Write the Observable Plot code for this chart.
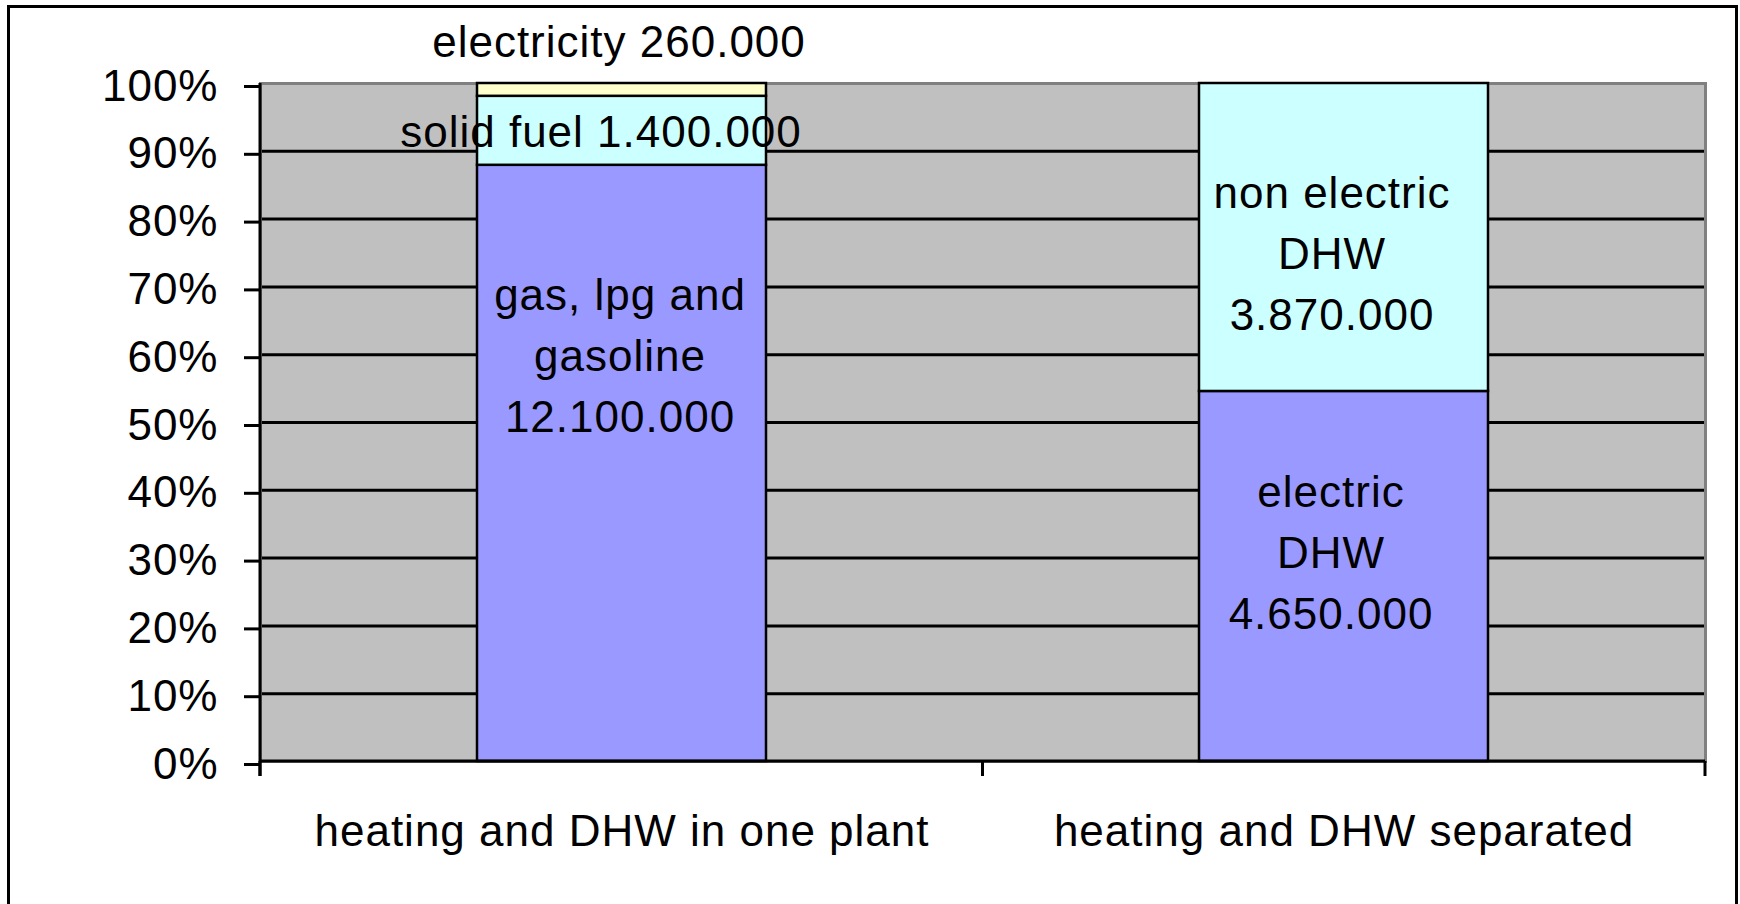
<!DOCTYPE html>
<html><head><meta charset="utf-8">
<script src="https://cdn.jsdelivr.net/npm/d3@7"></script>
<script src="https://cdn.jsdelivr.net/npm/@observablehq/plot@0.6"></script>
<style>
html,body{margin:0;padding:0;background:#fff;overflow:hidden;width:1740px;height:904px;}
#frame{position:absolute;left:7px;top:5px;width:1725px;height:1000px;border:3px solid #000;}
#chart{position:absolute;left:0;top:0;}
#chart svg text{letter-spacing:1px;}
</style></head><body><div id="frame"></div><div id="chart"></div>
<script>
// ---- data ----
const categories = ["heating and DHW in one plant", "heating and DHW separated"];
const seriesNames = ["gas, lpg and gasoline", "solid fuel", "electricity", "electric DHW", "non electric DHW"];
const seriesCategory = [categories[0], categories[0], categories[0], categories[1], categories[1]];
const seriesValues = [12100000, 1400000, 260000, 4650000, 3870000];
const seriesLabels = [
  "gas, lpg and\ngasoline\n12.100.000",
  "solid fuel 1.400.000",
  "electricity 260.000",
  "electric\nDHW\n4.650.000",
  "non electric\nDHW\n3.870.000"
];
const yTickValues = [0, 0.1, 0.2, 0.3, 0.4, 0.5, 0.6, 0.7, 0.8, 0.9, 1];

// ---- styles ----
const seriesColors = ["#9999FF", "#CCFFFF", "#FFFFCC", "#9999FF", "#CCFFFF"];
const labelOffsets = [[-2, -112], [-21, -3], [-3, -52], [-13, -28], [-12, 12]];
const FONT = 44;

const rows = seriesNames.map((s, i) => ({category: seriesCategory[i], series: s, value: seriesValues[i], label: seriesLabels[i]}));
const totals = d3.rollup(rows, v => d3.sum(v, d => d.value), d => d.category);
const cum = new Map();
rows.forEach(d => {
  const c = cum.get(d.category) || 0;
  d.mid = (c + d.value / 2) / totals.get(d.category);
  cum.set(d.category, c + d.value);
});
const gridValues = yTickValues.filter(v => v > 0 && v < 1);

const chart = Plot.plot({
  width: 1740,
  height: 904,
  marginLeft: 260,
  marginRight: 35,
  marginTop: 83,
  marginBottom: 143,
  style: {fontFamily: "'Liberation Sans', Arial, sans-serif", fontSize: FONT + "px", background: "transparent", color: "black"},
  x: {domain: categories, paddingInner: 0.6, paddingOuter: 0.3, label: null},
  y: {domain: [0, 1], label: null},
  color: {domain: seriesNames, range: seriesColors},
  marks: [
    Plot.frame({fill: "#C0C0C0", stroke: "none"}),
    Plot.gridY(gridValues, {stroke: "black", strokeOpacity: 1, strokeWidth: 3}),
    Plot.frame({stroke: "#808080", strokeWidth: 3}),
    Plot.barY(rows, Plot.stackY({x: "category", y: "value", fill: "series", offset: "normalize", stroke: "black", strokeWidth: 2.5})),
    Plot.axisX({tickSize: 0, tickPadding: 53, fontSize: FONT, label: null}),
    Plot.axisY({ticks: yTickValues, tickFormat: d3.format(".0%"), tickSize: 16, tickPadding: 26, fontSize: FONT, strokeWidth: 3, dy: 3, label: null}),
    ...rows.map((d, i) => Plot.text([d], {x: "category", y: "mid", text: "label", dx: labelOffsets[i][0], dy: labelOffsets[i][1], fontSize: FONT, lineHeight: 1.386, fill: "black"}))
  ]
});
document.getElementById("chart").appendChild(chart);

// axis lines and category separator ticks from the scales
const xr = chart.scale("x").range, yr = chart.scale("y").range;
const svg = d3.select(chart);
const g = svg.append("g").attr("stroke", "black").attr("stroke-width", 3);
g.append("line").attr("x1", xr[0]).attr("x2", xr[0]).attr("y1", yr[1]).attr("y2", yr[0] + 15);
g.append("line").attr("x1", xr[0]).attr("x2", xr[1]).attr("y1", yr[0]).attr("y2", yr[0]);
const n = categories.length;
for (let i = 0; i <= n; i++) {
  const x = xr[0] + i * (xr[1] - xr[0]) / n;
  g.append("line").attr("x1", x).attr("x2", x).attr("y1", yr[0]).attr("y2", yr[0] + 15);
}
</script></body></html>
